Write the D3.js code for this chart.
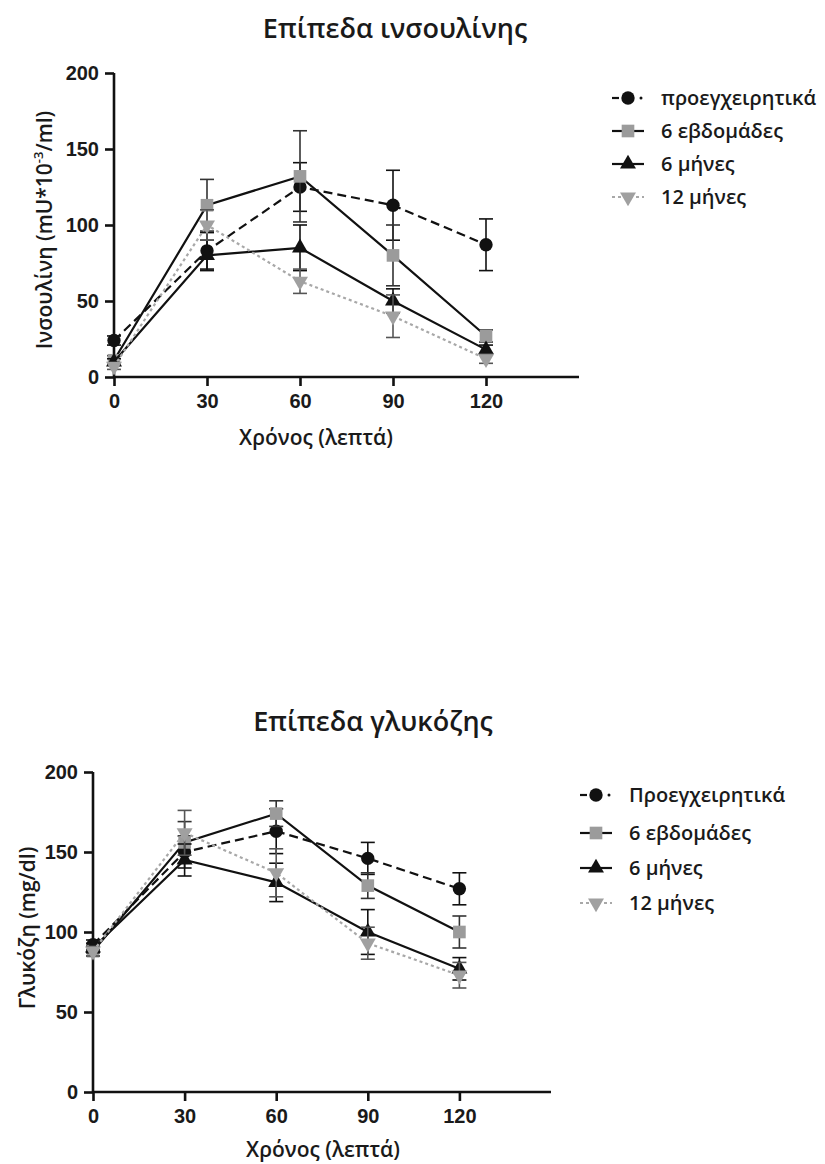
<!DOCTYPE html>
<html><head><meta charset="utf-8">
<script src="https://cdn.jsdelivr.net/npm/d3@7"></script>
<style>
html,body{margin:0;padding:0;background:#fff;}
svg{display:block;}
</style></head>
<body>
<svg id="chart" width="825" height="1164"></svg>
<script>
// ---------- DATA ----------
const times = [0, 30, 60, 90, 120];
const xTicks = [0, 30, 60, 90, 120];
const yTicks = [0, 50, 100, 150, 200];

const seriesNamesTop = ["προεγχειρητικά", "6 εβδομάδες", "6 μήνες", "12 μήνες"];
const seriesNamesBottom = ["Προεγχειρητικά", "6 εβδομάδες", "6 μήνες", "12 μήνες"];

// Insulin (mU*10^-3/ml)
const insPreop = [24, 83, 125, 113, 87];
const insPreopErr = [3, 12, 16, 23, 17];
const ins6w = [11, 113, 132, 80, 27];
const ins6wErr = [3, 17, 30, 20, 4];
const ins6m = [10, 80, 85, 50, 18];
const ins6mErr = [2, 10, 15, 8, 3];
const ins12m = [7, 100, 63, 40, 12];
const ins12mErr = [2, 10, 8, 14, 3];

// Glucose (mg/dl)
const gluPreop = [92, 150, 163, 146, 127];
const gluPreopErr = [3, 10, 14, 10, 10];
const glu6w = [88, 156, 174, 129, 100];
const glu6wErr = [3, 13, 8, 8, 10];
const glu6m = [90, 145, 131, 100, 77];
const glu6mErr = [3, 10, 12, 14, 7];
const glu12m = [88, 162, 137, 93, 73];
const glu12mErr = [3, 14, 15, 10, 8];

// ---------- STYLES ----------
const styles = [
  {lineColor: "#111", dash: "9,5", marker: d3.symbolCircle, msize: 140, mColor: "#111", errColor: "#111"},
  {lineColor: "#111", dash: null, marker: d3.symbolSquare, msize: 160, mColor: "#9b9b9b", errColor: "#333"},
  {lineColor: "#111", dash: null, marker: d3.symbolTriangle, msize: 110, mColor: "#111", errColor: "#111"},
  {lineColor: "#a8a8a8", dash: "3,3", marker: d3.symbolTriangle, msize: 110, mColor: "#a0a0a0", errColor: "#555", rotate: 180}
];

const svg = d3.select("#chart");
const tickFont = "'Liberation Sans', Arial, sans-serif";
const textFont = "'Open Sans', 'Noto Sans', sans-serif";

function drawPanel(cfg) {
  const g = svg.append("g");
  const x = d3.scaleLinear().domain([0, 150]).range([cfg.x0, cfg.x1]);
  const y = d3.scaleLinear().domain([0, 200]).range([cfg.y0, cfg.y1]);

  // title
  g.append("text").attr("x", cfg.titleX).attr("y", cfg.titleY)
    .attr("text-anchor", "middle").attr("font-family", textFont)
    .attr("font-weight", 600).attr("font-size", 27).attr("fill", "#1a1a1a")
    .text(cfg.title);

  // axes
  const xAxis = g.append("g").attr("transform", `translate(0,${cfg.y0})`)
    .call(d3.axisBottom(x).tickValues(xTicks).tickSize(9).tickPadding(8));
  const yAxis = g.append("g").attr("transform", `translate(${cfg.x0},0)`)
    .call(d3.axisLeft(y).tickValues(yTicks).tickSize(9).tickPadding(6));
  [xAxis, yAxis].forEach(a => {
    a.select(".domain").attr("stroke", "#111").attr("stroke-width", 2.6);
    a.selectAll(".tick line").attr("stroke", "#111").attr("stroke-width", 2.6);
    a.selectAll(".tick text").attr("font-family", tickFont).attr("font-weight", "bold")
      .attr("font-size", 20).attr("fill", "#1a1a1a");
  });
  xAxis.select(".domain").attr("d", `M${cfg.x0},0H${cfg.x1}`);
  yAxis.select(".domain").attr("d", `M0,${cfg.y0}V${cfg.y1}`);
  xAxis.selectAll(".tick line").attr("y1", -1);

  // axis titles
  g.append("text").attr("x", cfg.xTitleX).attr("y", cfg.xTitleY)
    .attr("text-anchor", "middle").attr("font-family", textFont)
    .attr("font-weight", 600).attr("font-size", 21).attr("fill", "#1a1a1a")
    .text("Χρόνος (λεπτά)");
  const yt = g.append("text")
    .attr("transform", `translate(${cfg.yTitleX},${cfg.yTitleY}) rotate(-90)`)
    .attr("text-anchor", "middle").attr("font-family", textFont)
    .attr("font-weight", 600).attr("font-size", 21).attr("fill", "#1a1a1a");
  cfg.yTitleParts.forEach(p => {
    const ts = yt.append("tspan").text(p.t);
    if (p.sup) ts.attr("baseline-shift", "super").attr("font-size", 13);
  });

  // series
  cfg.series.forEach((vals, i) => {
    const st = styles[i];
    const errs = cfg.errors[i];
    const sg = g.append("g");
    vals.forEach((v, j) => {
      const cx = x(times[j]);
      const e = errs[j];
      sg.append("line").attr("x1", cx).attr("x2", cx)
        .attr("y1", y(v - e)).attr("y2", y(v + e))
        .attr("stroke", st.errColor).attr("stroke-width", 1.6);
      [v - e, v + e].forEach(b => {
        sg.append("line").attr("x1", cx - 7).attr("x2", cx + 7)
          .attr("y1", y(b)).attr("y2", y(b))
          .attr("stroke", st.errColor).attr("stroke-width", 1.6);
      });
    });
    const line = d3.line().x((d, j) => x(times[j])).y(d => y(d));
    sg.append("path").datum(vals).attr("d", line)
      .attr("fill", "none").attr("stroke", st.lineColor)
      .attr("stroke-width", 2.2).attr("stroke-dasharray", st.dash);
    vals.forEach((v, j) => {
      sg.append("path")
        .attr("d", d3.symbol().type(st.marker).size(st.msize)())
        .attr("transform", `translate(${x(times[j])},${y(v)}) rotate(${st.rotate || 0})`)
        .attr("fill", st.mColor);
    });
  });

  // legend
  cfg.names.forEach((name, i) => {
    const st = styles[i];
    const ly = cfg.legY[i];
    const lg = g.append("g");
    if (i === 0) {
      lg.append("line").attr("x1", cfg.legX - 16).attr("x2", cfg.legX - 9)
        .attr("y1", ly).attr("y2", ly).attr("stroke", st.lineColor).attr("stroke-width", 2.2);
      lg.append("circle").attr("cx", cfg.legX + 13).attr("cy", ly).attr("r", 1.5).attr("fill", st.lineColor);
    } else {
      lg.append("line").attr("x1", cfg.legX - 16).attr("x2", cfg.legX + 16)
        .attr("y1", ly).attr("y2", ly)
        .attr("stroke", st.lineColor).attr("stroke-width", 2.2)
        .attr("stroke-dasharray", st.dash);
    }
    lg.append("path")
      .attr("d", d3.symbol().type(st.marker).size(st.msize)())
      .attr("transform", `translate(${cfg.legX},${ly}) rotate(${st.rotate || 0})`)
      .attr("fill", st.mColor);
    lg.append("text").attr("x", cfg.legX + 33).attr("y", ly + 7)
      .attr("font-family", textFont).attr("font-weight", 600)
      .attr("font-size", 20).attr("fill", "#1a1a1a").text(name);
  });
}

drawPanel({
  title: "Επίπεδα ινσουλίνης", titleX: 395, titleY: 38,
  x0: 114, x1: 579, y0: 377, y1: 73,
  xTitleX: 316, xTitleY: 445,
  yTitleX: 52, yTitleY: 230,
  yTitleParts: [{t: "Ινσουλίνη (mU*10"}, {t: "-3", sup: true}, {t: "/ml)"}],
  series: [insPreop, ins6w, ins6m, ins12m],
  errors: [insPreopErr, ins6wErr, ins6mErr, ins12mErr],
  names: seriesNamesTop, legX: 628, legY: [98, 131, 164, 197]
});

drawPanel({
  title: "Επίπεδα γλυκόζης", titleX: 373, titleY: 731,
  x0: 93, x1: 551, y0: 1092, y1: 772,
  xTitleX: 323, xTitleY: 1157,
  yTitleX: 35, yTitleY: 928,
  yTitleParts: [{t: "Γλυκόζη (mg/dl)"}],
  series: [gluPreop, glu6w, glu6m, glu12m],
  errors: [gluPreopErr, glu6wErr, glu6mErr, glu12mErr],
  names: seriesNamesBottom, legX: 596, legY: [795, 833, 868, 903]
});
</script>
</body></html>
